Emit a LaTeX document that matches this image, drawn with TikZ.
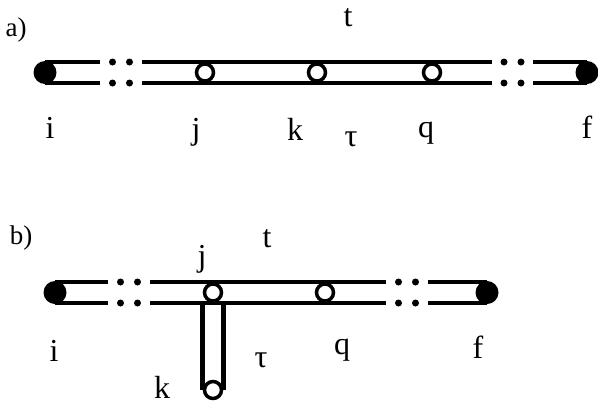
\documentclass[tikz,border=0pt]{standalone}
\usepackage{fontspec}
\setmainfont{Liberation Serif}
\usetikzlibrary{positioning,calc,backgrounds}

\begin{document}
\begin{tikzpicture}[
  x=1pt, y=-1pt,
  tube/.style={draw, line width=4.5pt, double distance=16.5pt},
  endvert/.style={circle, fill, inner sep=0pt, minimum size=23pt},
  midvert/.style={circle, draw, line width=3.5pt, fill=white, inner sep=0pt, minimum size=17pt},
  gap/.style={inner sep=0pt, minimum height=25pt},
  lab/.style={inner sep=0pt, font=\fontsize{32}{32}\selectfont},
  tag/.style={inner sep=0pt, font=\fontsize{27}{27}\selectfont}
]
\useasboundingbox (0,0) rectangle (598,405);

% ---- a) ----
\node (tagA) [tag] at (16,30) {a)};
\node (ia) [endvert] at (45,72.5) {};
\node (gapLa) [gap, minimum width=42pt] at (121,72.5) {};
\node (ja) [midvert] at (205,72.5) {};
\node (ka) [midvert] at (317,72.5) {};
\node (qa) [midvert] at (432,72.5) {};
\node (gapRa) [gap, minimum width=41pt] at (512.5,72.5) {};
\node (fa) [endvert] at (587,72.5) {};

\begin{scope}[on background layer]
  \draw [tube] (ia.center) -- (gapLa.west);
  \draw [tube] (gapLa.east) -- (ja.center) -- (ka.center) -- (qa.center) -- (gapRa.west);
  \draw [tube] (gapRa.east) -- (fa.center);
\end{scope}
\foreach \g in {gapLa,gapRa}
  \foreach \dx in {-8.5,8.5}
    \foreach \dy in {-10.5,10.5}
      \fill ($(\g.center)+(\dx,\dy)$) circle (3.5pt);

\node (lia) [lab] at (50,128) {i};
\node (lja) [lab] at (196,132) {j};
\node (lka) [lab] at (295,129) {k};
\node (lta) [lab] at (348,18) {t};
\node (ltaua) [lab] at (351,139) {τ};
\node (lqa) [lab] at (426,133) {q};
\node (lfa) [lab] at (587,127) {f};

% ---- b) ----
\node (tagB) [tag] at (21,238) {b)};
\node (ib) [endvert] at (55,292.5) {};
\node (gapLb) [gap, minimum width=42pt] at (129,292.5) {};
\node (jb) [midvert] at (213,292.5) {};
\node (kb) [midvert] at (213,390) {};
\node (qb) [midvert] at (325,292.5) {};
\node (gapRb) [gap, minimum width=42pt] at (407,292.5) {};
\node (fb) [endvert] at (487,292.5) {};

\begin{scope}[on background layer]
  \draw [tube] (jb.center) -- (kb.center);
  \draw [tube] (ib.center) -- (gapLb.west);
  \draw [tube] (gapLb.east) -- (jb.center) -- (qb.center) -- (gapRb.west);
  \draw [tube] (gapRb.east) -- (fb.center);
\end{scope}
\foreach \g in {gapLb,gapRb}
  \foreach \dx in {-8.5,8.5}
    \foreach \dy in {-10.5,10.5}
      \fill ($(\g.center)+(\dx,\dy)$) circle (3.5pt);

\node (ljb) [lab] at (202,259) {j};
\node (ltb) [lab] at (267,239) {t};
\node (lib) [lab] at (54,351) {i};
\node (lkb) [lab] at (162,387) {k};
\node (ltaub) [lab] at (261,360) {τ};
\node (lqb) [lab] at (342,350) {q};
\node (lfb) [lab] at (478,347) {f};
\end{tikzpicture}
\end{document}
